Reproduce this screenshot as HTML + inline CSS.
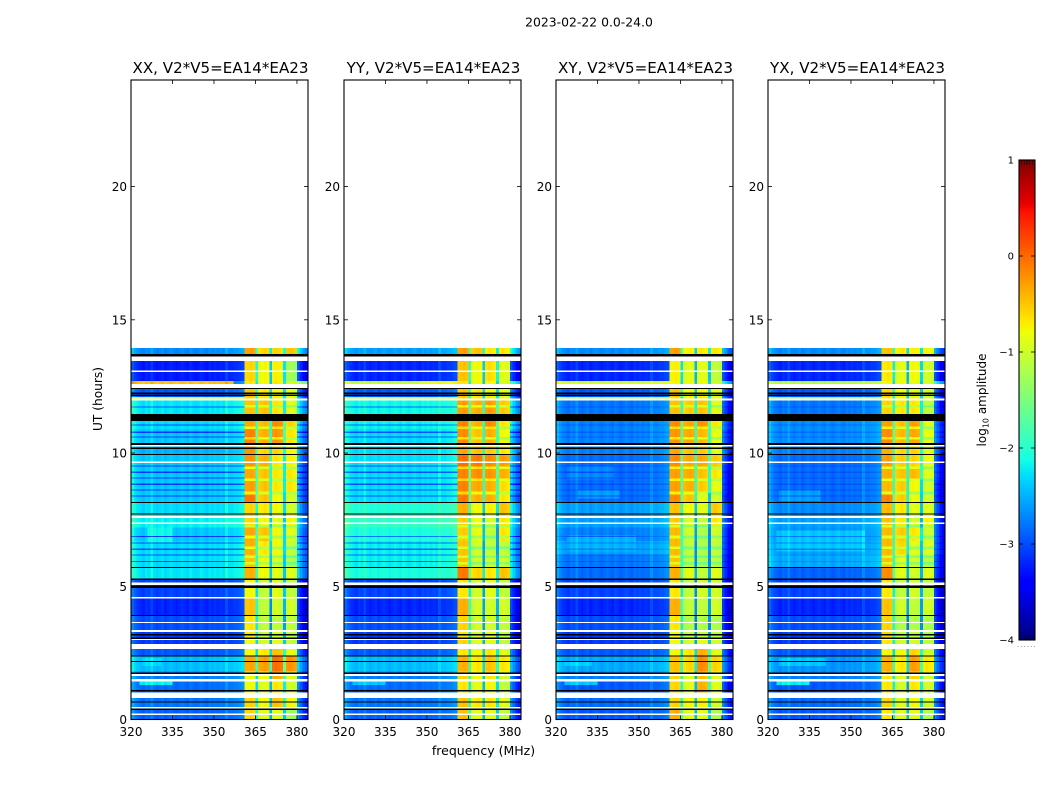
<!DOCTYPE html>
<html lang="en">
<head>
<meta charset="utf-8">
<title>2023-02-22 0.0-24.0 dynamic spectra</title>
<style>
html,body{margin:0;padding:0;background:#fff;}
#chart{display:block;width:1050px;height:800px;}
text{font-family:"DejaVu Sans","Liberation Sans",sans-serif;fill:#000;}
</style>
</head>
<body>
<svg id="chart" xmlns="http://www.w3.org/2000/svg" width="1050" height="800" viewBox="0 0 1050 800">
<text x="589" y="26.5" text-anchor="middle" font-size="12.4">2023-02-22 0.0-24.0</text>
<text x="483.5" y="755" text-anchor="middle" font-size="12.5">frequency (MHz)</text>
<text transform="translate(102,399) rotate(-90)" text-anchor="middle" font-size="12.2">UT (hours)</text>
<text transform="translate(986,400) rotate(-90)" text-anchor="middle" font-size="12">log<tspan dy="2.5" font-size="8">10</tspan><tspan dy="-2.5"> amplitude</tspan></text>
</svg>
<script>
const panelTitles = ["XX, V2*V5=EA14*EA23","YY, V2*V5=EA14*EA23","XY, V2*V5=EA14*EA23","YX, V2*V5=EA14*EA23"];
const panelKeys = ["xx","yy","xy","yx"];
const freqTicks = [320,335,350,365,380];
const utTicks = [0,5,10,15,20];
const colorbarTicks = [-4,-3,-2,-1,0,1];
const colorbarTickLabels = ["\u22124","\u22123","\u22122","\u22121","0","1"];

/* UT hours bounding each observed band */
const bandEdges = [0,.41,1.01,1.48,1.81,2.36,2.64,3.02,3.36,3.89,4.54,5.24,5.68,6.2,6.7,7.2,7.74,8.16,8.5,9,9.5,9.97,10.37,10.9,11.21,11.47,11.97,12.1,12.44,12.6,12.7,13.45,13.72,13.95];

/* log10 amplitude per band: [background, block1, block2, block3, block4, upper edge] */
const xxRows = [
[-2.9,-.6,-.9,-.9,-1.3,-3.1],[-2.8,-.6,-.8,-.5,-.8,-3],[-2.85,-.8,-.9,-.7,-1,-3.1],[-2.75,-.8,-.8,-.4,-.9,-3],
[-2.45,-.35,-.3,-.05,-.25,-2.7],[-2.95,-.8,-.7,-.5,-.9,-3.1],[-3.1,-.8,-1,-.9,-1.1,-3.4],[-3.1,-.7,-1.1,-1,-1.1,-3.4],
[-3,-.7,-1.1,-1.1,-1.1,-3.4],[-3.2,-.5,-1.1,-1,-1,-3.45],[-3.05,-.8,-1.1,-.9,-1.1,-3.4],[-2.25,-.4,-.8,-.9,-.9,-2.7],
[-2.3,-.5,-.8,-.9,-1.2,-2.7],[-2.3,-.4,-.7,-.8,-1.1,-2.7],[-2.4,-.35,-.5,-.8,-.9,-2.8],[-2.2,-.6,-.8,-.9,-.8,-2.7],
[-2.3,-.6,-.7,-.8,-1,-2.8],[-2.4,-.1,-.5,-.8,-1,-2.9],[-2.4,-.3,-.5,-.7,-.7,-2.9],[-2.4,-.35,-.5,-.7,-.7,-2.9],
[-2.4,-.25,-.4,-.7,-.75,-2.9],[-2.5,-.25,-.6,-.6,-.8,-2.8],[-2.4,-.15,-.4,-.25,-.7,-2.7],[-2.3,-.35,-.45,-.2,-.6,-2.6],
[-2.3,-.4,-.5,-.5,-.8,-2.6],[-2.25,-.5,-.5,-.7,-.9,-2.5],[-1,-.6,-.7,-.7,-.9,-2.8],[-2.95,-.5,-.7,-.8,-.9,-3.1],
[-2.9,-.6,-.8,-.8,-1,-3.1],[-.5,-.7,-.8,-.7,-1,-1.5],[-3.25,-.6,-.8,-.75,-1.3,-3.35],[-2.8,-.1,-.4,-.7,-.3,-2.7],
[-2.7,-.3,-.6,-.6,-.5,-2.5]];
const yyRows = [
[-2.9,-.5,-.9,-.9,-1.1,-3.1],[-2.8,-.5,-.7,-.7,-.9,-3],[-2.85,-.7,-.9,-.8,-1.1,-3.1],[-2.75,-.6,-.8,-.7,-1,-3],
[-2.45,-.4,-.7,-.5,-.7,-2.8],[-2.95,-.7,-.8,-.7,-.9,-3.1],[-3.1,-.6,-.9,-.9,-1.1,-3.4],[-3.1,-.7,-1,-.9,-1.1,-3.4],
[-3,-.6,-1,-1,-1.1,-3.4],[-3.2,-.4,-1,-1,-1,-3.4],[-3.05,-.7,-1,-.9,-1.1,-3.4],[-2.1,-.1,-.6,-.7,-.5,-2.5],
[-2.2,-.5,-1,-1,-1,-2.6],[-2.2,-.5,-1,-1.1,-1.1,-2.6],[-2.1,-.55,-.85,-1.1,-.7,-2.6],[-1.95,-.55,-.85,-1,-.7,-2.5],
[-2.05,-.4,-.8,-.75,-.5,-2.5],[-2.3,-.1,-.4,-.4,-.7,-2.8],[-2.3,-.15,-.35,-.4,-.65,-2.7],[-2.3,-.15,-.2,-.25,-.4,-2.7],
[-2.3,-.05,-.1,-.2,-.3,-2.7],[-2.3,-.35,-.5,-.55,-.7,-2.6],[-2.3,-.2,-.5,-.4,-.8,-2.7],[-2.2,-.15,-.4,-.2,-.7,-2.5],
[-2.2,-.3,-.5,-.4,-.7,-2.5],[-2.15,-.3,-.4,-.3,-.55,-2.5],[-1.1,-.6,-.7,-.7,-.8,-2.8],[-2.95,-.5,-.7,-.8,-.9,-3.1],
[-2.9,-.6,-.8,-.8,-1,-3.1],[-1.1,-.7,-.8,-.8,-1,-2.2],[-3.2,-.5,-.8,-.65,-.9,-3.35],[-2.6,-.3,-.5,-.7,-.7,-2.4],
[-2.6,-.3,-.5,-.7,-.7,-2.4]];
const xyRows = [
[-2.95,-.4,-.9,-.9,-1.2,-3.1],[-2.85,-.6,-.8,-.75,-1,-3.1],[-2.95,-.6,-.9,-.4,-.9,-3.3],[-2.75,-.6,-.9,-.5,-.9,-3.1],
[-2.55,-.5,-.6,-.2,-.6,-3],[-2.95,-.8,-.7,-.4,-.9,-3.2],[-3.1,-.8,-1,-.9,-1,-3.4],[-3.1,-.8,-1.1,-1.1,-1.1,-3.45],
[-3,-.7,-1.2,-1.2,-1.2,-3.45],[-3.2,-.4,-1.1,-1.1,-1,-3.5],[-3.05,-.7,-1.1,-1,-1,-3.45],[-2.85,-.4,-.9,-1.1,-.9,-3.35],
[-2.8,-.5,-1.1,-1.2,-1.1,-3.35],[-2.6,-.45,-1.1,-1.2,-1.1,-3.25],[-2.75,-.45,-1,-1.2,-1,-3.25],[-2.6,-.55,-.95,-1.1,-.7,-3.15],
[-2.6,-.5,-.8,-.9,-.55,-3.15],[-2.85,-.2,-.5,-.9,-1,-3.4],[-2.85,-.3,-.4,-.55,-.85,-3.35],[-2.85,-.3,-.35,-.5,-.7,-3.35],
[-2.85,-.2,-.35,-.35,-.55,-3.25],[-2.75,-.35,-.5,-.55,-.9,-3.05],[-2.75,-.25,-.35,-.45,-.85,-3.15],[-2.75,-.2,-.35,-.25,-.7,-3.05],
[-2.7,-.4,-.5,-.4,-.8,-3.1],[-2.8,-.5,-.55,-.5,-.9,-3.25],[-1.2,-.7,-.8,-.7,-.9,-3],[-2.95,-.5,-.8,-.8,-.9,-3.2],
[-2.9,-.7,-.8,-.8,-1,-3.2],[-1,-.8,-.8,-.8,-1,-2.4],[-3.2,-.75,-.9,-.9,-1.1,-3.35],[-2.7,-.3,-.75,-.7,-.7,-2.8],
[-2.7,-.3,-.75,-.7,-.7,-2.8]];
const yxRows = [
[-2.95,-.7,-.9,-.9,-1.2,-3.1],[-2.85,-.6,-.9,-.8,-1,-3.1],[-2.95,-.7,-1,-.7,-1,-3.2],[-2.75,-.7,-.9,-.6,-1,-3.1],
[-2.65,-.4,-.7,-.3,-.7,-3],[-2.95,-.8,-.8,-.6,-1,-3.2],[-3.1,-.7,-1,-1,-1.1,-3.4],[-3.1,-.6,-1.1,-1.1,-1.2,-3.45],
[-3,-.6,-1.2,-1.2,-1.2,-3.45],[-3.2,-.5,-1,-1.1,-1,-3.5],[-3.05,-.7,-1.1,-1,-1.1,-3.45],[-2.9,-.2,-.9,-1,-.9,-3.35],
[-2.55,-.5,-.85,-1,-1.1,-3.25],[-2.6,-.45,-.6,-.9,-.9,-3.15],[-2.65,-.45,-.55,-.7,-1,-3.15],[-2.6,-.5,-.7,-1,-.8,-3.15],
[-2.7,-.45,-.7,-.9,-.9,-3.15],[-2.85,-.15,-.55,-.85,-1,-3.35],[-2.85,-.45,-.55,-.8,-1,-3.35],[-2.85,-.4,-.5,-.45,-.9,-3.25],
[-2.85,-.3,-.55,-.6,-.8,-3.25],[-2.75,-.4,-.6,-.6,-.9,-3.05],[-2.7,-.2,-.45,-.35,-.85,-3.05],[-2.7,-.3,-.5,-.3,-.9,-3.05],
[-2.7,-.5,-.6,-.5,-.9,-3.1],[-2.8,-.6,-.7,-.7,-1.1,-3.25],[-1.3,-.7,-.8,-.8,-1,-3],[-2.95,-.6,-.8,-.9,-1,-3.2],
[-2.9,-.7,-.8,-.9,-1,-3.2],[-1.2,-.8,-.8,-.9,-1,-2.4],[-3.2,-.7,-.9,-.8,-1,-3.35],[-2.7,-.5,-.7,-.75,-.8,-2.9],
[-2.7,-.5,-.7,-.75,-.8,-2.9]];

/* which column of a band row each 1 MHz channel reads */
const channelZones = [0,0,0,0,0,0,0,0,0,0,0,0,0,0,0,0,0,0,0,0,0,0,0,0,0,0,0,0,0,0,0,0,0,0,0,0,0,0,0,0,0,1,1,1,1,1,2,2,2,2,2,3,3,3,3,3,4,4,4,4,5,5,5,5];
/* per-channel amplitude difference from the band level; -1.5 or so marks the gaps between blocks */
const channelOffsets = [.3,.15,.05,0,-.05,.05,0,.15,0,-.05,0,.05,-.05,0,.05,0,-.05,0,.05,0,-.05,.05,0,-.05,0,.05,0,-.05,.05,0,.05,0,.05,0,.2,.05,.05,.1,.1,.15,.2,0,0,.05,0,-1.5,-.05,0,.05,0,-1.6,0,.05,0,-.05,-1.5,0,.05,0,-.05,.4,.15,-.1,-.2];

/* narrow low-amplitude background rows (UT hours) and how deep they read in each product */
const dipHours = [5.93,6.17,6.39,6.63,6.86,8.38,8.61,8.83,9.06,9.28,9.52,10.6,10.78,11.05,11.72];
const dipDepths = [.7,.7,.15,.15];

/* narrow fainter rows across the bright blocks (UT hours), and their depth in log10 */
const blockDipHours = [5.87,6.11,6.45,6.85,7.25,8.5,9,9.45,10.55,10.95,11.75];
const blockDipDepth = .45;

/* localised background patches: [start hour, end hour, first channel, last channel, level] */
const xxPatches = [[1.3,1.42,3,14,-2.2],[6.6,7.2,6,14,-2.15],[12.6,12.7,37,40,-2.8],[2,2.3,4,10,-2.3]];
const yyPatches = [[1.3,1.42,3,14,-2.4],[12.6,12.7,27,40,-.9]];
const xyPatches = [[6.3,6.9,4,28,-2.5],[8.3,8.6,8,22,-2.6],[1.3,1.42,3,14,-2.4],[2,2.2,3,12,-2.35],[9,9.5,4,20,-2.7]];
const yxPatches = [[6.3,7.1,3,34,-2.4],[1.3,1.42,3,14,-2.2],[8.2,8.6,4,18,-2.6],[2,2.3,4,20,-2.4]];

/* flagged rows: no data (white) and zero amplitude (black) */
const whiteRows = [[.16,.23],[.41,.46],[.81,1.01],[1.43,1.52],[1.63,1.71],[2.64,2.84],[2.99,3.02],[3.29,3.36],[3.62,3.66],[4.54,4.59],[5.04,5.14],[7.34,7.39],[7.57,7.64],[9.63,9.68],[10.24,10.31],[11.97,12.04],[12.44,12.6],[13.05,13.09],[13.45,13.62]];
const blackRows = [[.36,.41],[.63,.68],[1.06,1.11],[1.71,1.77],[2.16,2.2],[2.36,2.41],[3.02,3.07],[3.16,3.21],[3.89,3.93],[4.93,5.02],[5.24,5.3],[5.68,5.72],[7.7,7.74],[8.12,8.16],[9.93,9.97],[10.15,10.2],[10.31,10.37],[11.21,11.47],[12.15,12.19],[12.22,12.27],[12.4,12.44],[13.62,13.72]];

const rowsByPanel = {xx:xxRows, yy:yyRows, xy:xyRows, yx:yxRows};
const patchesByPanel = {xx:xxPatches, yy:yyPatches, xy:xyPatches, yx:yxPatches};

const SVGNS = "http://www.w3.org/2000/svg";
const svg = document.getElementById("chart");
const panelLefts = [131,344,556,768];
const panelWidth = 177;
const plotTop = 80, plotBottom = 719.5;
const freqMin = 320, freqMax = 384, utMax = 24;
const ampMin = -4, ampMax = 1;
const cbLeft = 1019, cbWidth = 16, cbTop = 160, cbBottom = 640;

function make(tag, attrs, parent){
  const e = document.createElementNS(SVGNS, tag);
  for (const k in attrs) e.setAttribute(k, attrs[k]);
  parent.appendChild(e);
  return e;
}
function xScale(left, f){ return left + (f - freqMin) / (freqMax - freqMin) * panelWidth; }
function yScale(h){ return plotBottom - h / utMax * (plotBottom - plotTop); }
function cbScale(v){ return cbBottom - (v - ampMin) / (ampMax - ampMin) * (cbBottom - cbTop); }
function ramp(t, pts){
  for (let i = 1; i < pts.length; i++){
    if (t <= pts[i][0]){
      const a = pts[i-1], b = pts[i];
      return a[1] + (b[1]-a[1]) * (t-a[0]) / (b[0]-a[0]);
    }
  }
  return pts[pts.length-1][1];
}
const jetR = [[0,0],[.35,0],[.66,1],[.89,1],[1,.5]];
const jetG = [[0,0],[.125,0],[.375,1],[.64,1],[.91,0],[1,0]];
const jetB = [[0,.5],[.11,1],[.34,1],[.65,0],[1,0]];
function jet(v){
  const t = Math.max(0, Math.min(1, (v - ampMin) / (ampMax - ampMin)));
  return "rgb(" + Math.round(255*ramp(t,jetR)) + "," + Math.round(255*ramp(t,jetG)) + "," + Math.round(255*ramp(t,jetB)) + ")";
}
function bandIndex(rows, h){
  let b = 0;
  while (b < rows.length - 1 && bandEdges[b+1] <= h) b++;
  return b;
}

panelKeys.forEach(function(key, p){
  const left = panelLefts[p];
  const rows = rowsByPanel[key];
  const group = make("g", {"shape-rendering":"crispEdges"}, svg);
  
  

  rows.forEach(function(row, b){
    const y0 = yScale(bandEdges[b+1]), y1 = yScale(bandEdges[b]);
    channelZones.forEach(function(zone, ch){
      const x0 = xScale(left, freqMin + ch), x1 = xScale(left, freqMin + ch + 1);
      const cell = make("rect", {x:x0, y:y0, width:x1-x0, height:y1-y0, fill:jet(row[zone] + channelOffsets[ch])}, group);
      
      
    });
  });

  patchesByPanel[key].forEach(function(patch){
    for (let ch = patch[2]; ch <= patch[3]; ch++){
      const x0 = xScale(left, freqMin + ch), x1 = xScale(left, freqMin + ch + 1);
      const cell = make("rect", {x:x0, y:yScale(patch[1]), width:x1-x0, height:yScale(patch[0])-yScale(patch[1]), fill:jet(patch[4] + channelOffsets[ch])}, group);
      
      
    }
  });

  dipHours.forEach(function(h){
    const b = bandIndex(rows, h);
    channelZones.forEach(function(zone, ch){
      if (zone !== 0 && zone !== 5) return;
      const x0 = xScale(left, freqMin + ch), x1 = xScale(left, freqMin + ch + 1);
      const cell = make("rect", {x:x0, y:yScale(h + .02), width:x1-x0, height:yScale(h - .02)-yScale(h + .02), fill:jet(rows[b][zone] + channelOffsets[ch] - dipDepths[p])}, group);
      
      
    });
  });

  blockDipHours.forEach(function(h){
    const b = bandIndex(rows, h);
    channelZones.forEach(function(zone, ch){
      if (zone < 1 || zone > 4 || channelOffsets[ch] < -1) return;
      const x0 = xScale(left, freqMin + ch), x1 = xScale(left, freqMin + ch + 1);
      const cell = make("rect", {x:x0, y:yScale(h + .05), width:x1-x0, height:yScale(h - .05)-yScale(h + .05), fill:jet(rows[b][zone] + channelOffsets[ch] - blockDipDepth)}, group);
      
      
    });
  });

  whiteRows.forEach(function(r){
    const m = make("rect", {x:left, y:yScale(r[1]), width:panelWidth, height:yScale(r[0])-yScale(r[1]), fill:"#fff"}, group);
    
    
  });
  blackRows.forEach(function(r){
    const m = make("rect", {x:left, y:yScale(r[1]), width:panelWidth, height:yScale(r[0])-yScale(r[1]), fill:"#000"}, group);
    
    
  });

  const frame = make("rect", {x:left, y:plotTop, width:panelWidth, height:plotBottom-plotTop, fill:"none", stroke:"#000", "stroke-width":1.1}, svg);
  
  

  freqTicks.forEach(function(f){
    const x = xScale(left, f);
    const t1 = make("line", {x1:x, x2:x, y1:plotBottom, y2:plotBottom-4, stroke:"#000", "stroke-width":.8}, svg);
    
    
    const t2 = make("line", {x1:x, x2:x, y1:plotTop, y2:plotTop+4, stroke:"#000", "stroke-width":.8}, svg);
    
    
    const lab = make("text", {x:x, y:736, "text-anchor":"middle", "font-size":12}, svg);
    lab.textContent = f;
    
    
  });
  utTicks.forEach(function(h){
    const y = yScale(h);
    const t1 = make("line", {x1:left, x2:left+4, y1:y, y2:y, stroke:"#000", "stroke-width":.8}, svg);
    
    
    const t2 = make("line", {x1:left+panelWidth, x2:left+panelWidth-4, y1:y, y2:y, stroke:"#000", "stroke-width":.8}, svg);
    
    
    const lab = make("text", {x:left-4, y:y+4.5, "text-anchor":"end", "font-size":12}, svg);
    lab.textContent = h;
    
    
  });

  const title = make("text", {x:left+panelWidth/2+1, y:73, "text-anchor":"middle", "font-size":15.1}, svg);
  title.textContent = panelTitles[p];
  
  
});

const cbGroup = make("g", {"shape-rendering":"crispEdges"}, svg);


for (let py = cbTop; py < cbBottom; py += 2){
  const v = ampMax - (py + 1 - cbTop) / (cbBottom - cbTop) * (ampMax - ampMin);
  const s = make("rect", {x:cbLeft, y:py, width:cbWidth, height:2, fill:jet(v)}, cbGroup);
  
  
}
const cbFrame = make("rect", {x:cbLeft, y:cbTop, width:cbWidth, height:cbBottom-cbTop, fill:"none", stroke:"#000", "stroke-width":1.1}, svg);



colorbarTicks.forEach(function(v, i){
  const y = cbScale(v);
  const l1 = make("line", {x1:cbLeft, x2:cbLeft+4, y1:y, y2:y, stroke:"#000", "stroke-width":.8}, svg);
  
  
  const l2 = make("line", {x1:cbLeft+cbWidth, x2:cbLeft+cbWidth-4, y1:y, y2:y, stroke:"#000", "stroke-width":.8}, svg);
  
  
  const lab = make("text", {x:cbLeft-5, y:y+3.5, "text-anchor":"end", "font-size":10}, svg);
  lab.textContent = colorbarTickLabels[i];
  
  
});
for (let i = 1; i <= 5; i++){
  const x = cbLeft + i * cbWidth / 6;
  const a = make("line", {x1:x, x2:x, y1:cbTop, y2:cbTop+5, stroke:"#000", "stroke-width":.7}, svg);
  
  
  const c = make("line", {x1:x, x2:x, y1:cbBottom, y2:cbBottom-5, stroke:"#000", "stroke-width":.7}, svg);
  
  
}
for (let i = 0; i < 6; i++){
  const d = make("rect", {x:1017.5 + i * 3.3, y:646, width:1, height:1, fill:"#999"}, svg);
  
  
}
</script>
</body>
</html>
